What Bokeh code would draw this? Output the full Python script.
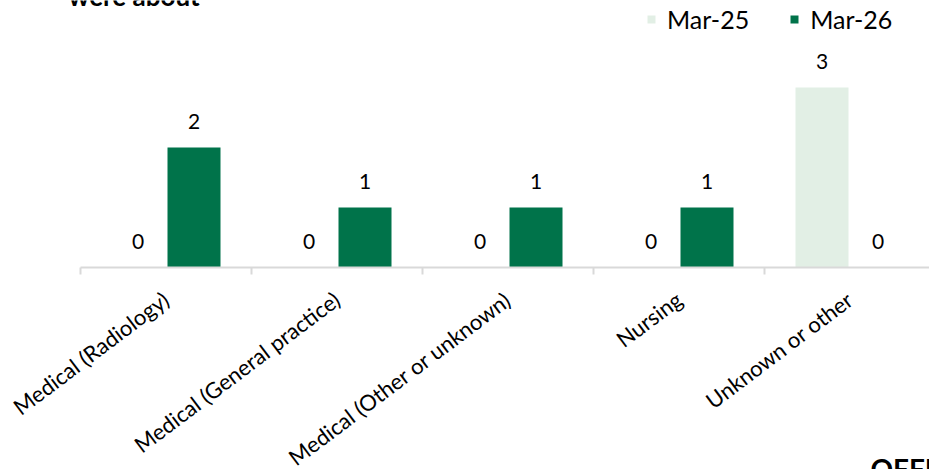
import math
from bokeh.plotting import figure
from bokeh.models import ColumnDataSource, Range1d, FixedTicker, Label, Legend, LinearAxis
from bokeh.transform import dodge
from bokeh.core.properties import value
from bokeh.embed import file_html
from bokeh.resources import INLINE

categories = ["Medical (Radiology)", "Medical (General practice)",
              "Medical (Other or unknown)", "Nursing", "Unknown or other"]
mar25 = [0, 0, 0, 0, 3]
mar26 = [2, 1, 1, 1, 0]
series_names = ["Mar-25", "Mar-26"]

DARK = "#00734A"
LIGHT = "#E2EFE5"
FONT = "Lato"

centers = [i + 0.5 for i in range(len(categories))]
bounds = [float(i) for i in range(len(categories) + 1)]

src = ColumnDataSource(dict(
    x=centers,
    v25=mar25,
    v26=mar26,
    t25=[str(v) for v in mar25],
    t26=[str(v) for v in mar26],
))

CW = 171.0   # px per category
UH = 60.0    # px per unit
p = figure(width=929, height=469, output_backend="svg", toolbar_location=None,
           x_range=Range1d(-80 / CW, 849 / CW), y_range=Range1d(-202 / UH, 267 / UH),
           min_border=0, x_axis_location=None, y_axis_location=None, tools="")
p.outline_line_color = None
p.xgrid.visible = False
p.ygrid.visible = False
p.background_fill_color = "white"
p.border_fill_color = "white"

off = 28 / CW
bw = 53 / CW
r25 = p.vbar(x=dodge("x", -off, range=p.x_range), top="v25", width=bw, source=src,
             fill_color=LIGHT, line_color=None)
r26 = p.vbar(x=dodge("x", off, range=p.x_range), top="v26", width=bw, source=src,
             fill_color=DARK, line_color=None)

p.text(x=dodge("x", -off, range=p.x_range), y="v25", text="t25", source=src,
       text_align="center", text_baseline="bottom", y_offset=-19,
       text_font=value(FONT), text_font_size="21px", text_color="#000000")
p.text(x=dodge("x", off, range=p.x_range), y="v26", text="t26", source=src,
       text_align="center", text_baseline="bottom", y_offset=-19,
       text_font=value(FONT), text_font_size="21px", text_color="#000000")

ax = LinearAxis(fixed_location=0, bounds=(0, len(categories)))
ax.ticker = FixedTicker(ticks=centers, minor_ticks=bounds)
ax.major_label_overrides = {c: lab for c, lab in zip(centers, categories)}
ax.major_label_orientation = math.radians(37)
ax.major_tick_line_color = None
ax.minor_tick_line_color = "#D9D9D9"
ax.minor_tick_line_width = 2
ax.minor_tick_in = 0
ax.minor_tick_out = 7
ax.axis_line_color = "#D9D9D9"
ax.axis_line_width = 2
ax.major_label_text_font = FONT
ax.major_label_text_font_size = "22px"
ax.major_label_text_color = "#000000"
ax.major_label_standoff = 22
p.add_layout(ax, "below")

legend = Legend(items=[(series_names[0], [r25]), (series_names[1], [r26])],
                orientation="horizontal", location=(646, 435),
                glyph_width=10, glyph_height=10, label_standoff=11, spacing=40,
                padding=0, margin=0, border_line_color=None,
                background_fill_alpha=0,
                label_text_font=FONT, label_text_font_size="25px",
                label_text_color="#000000")
p.add_layout(legend)

p.add_layout(Label(x=-12 / CW, y=272 / UH, text="were about",
                   text_font=FONT, text_font_style="bold", text_font_size="26px",
                   text_baseline="alphabetic", text_color="#000000"))
p.add_layout(Label(x=790 / CW, y=-184 / UH, text="OFFICIAL",
                   text_font=FONT, text_font_style="bold", text_font_size="28px",
                   text_baseline="top", text_color="#000000"))

open("out.html", "w").write(file_html(p, INLINE))
